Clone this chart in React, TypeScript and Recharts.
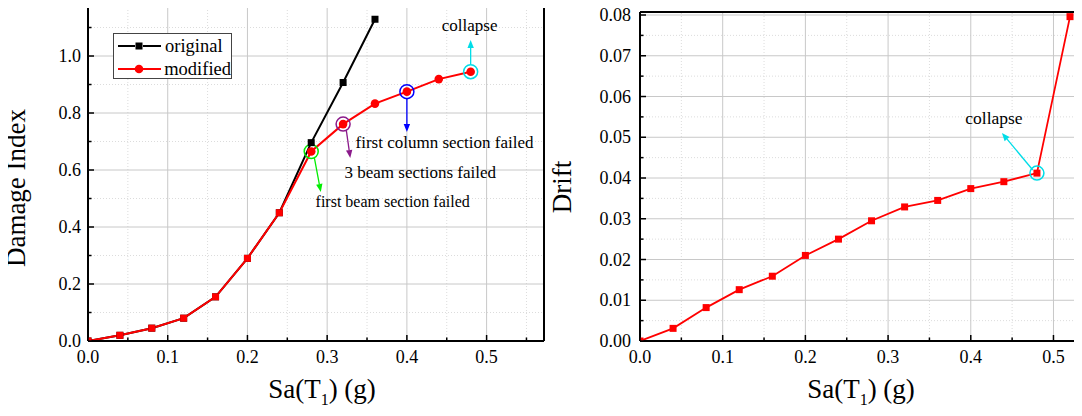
import React from 'react';
import { LineChart, Line, XAxis, YAxis, ReferenceLine, ReferenceDot, Legend } from 'recharts';

const FONT = '"Liberation Serif", "Times New Roman", serif';

// damage index vs Sa(T1)
const saOriginal = [0, 0.04, 0.08, 0.12, 0.16, 0.2, 0.24, 0.28, 0.32, 0.36];
const diOriginal = [0, 0.02, 0.045, 0.08, 0.155, 0.29, 0.45, 0.696, 0.907, 1.129];
const saModified = [0, 0.04, 0.08, 0.12, 0.16, 0.2, 0.24, 0.28, 0.32, 0.36, 0.4, 0.44, 0.48];
const diModified = [0, 0.02, 0.045, 0.08, 0.155, 0.29, 0.45, 0.665, 0.761, 0.833, 0.875, 0.919, 0.945];

// drift vs Sa(T1)
const saDrift = [0, 0.04, 0.08, 0.12, 0.16, 0.2, 0.24, 0.28, 0.32, 0.36, 0.4, 0.44, 0.48, 0.52];
const driftValues = [0, 0.0031, 0.0082, 0.0126, 0.0159, 0.021, 0.025, 0.0295, 0.0329, 0.0345, 0.0374, 0.0391, 0.0412, 0.0796];

// ticks
const saMajor = [0, 0.1, 0.2, 0.3, 0.4, 0.5];
const saMinorLeft = [0.05, 0.15, 0.25, 0.35, 0.45, 0.55];
const saMinorRight = [0.05, 0.15, 0.25, 0.35, 0.45];
const diMajor = [0, 0.2, 0.4, 0.6, 0.8, 1.0];
const diMinor = [0.1, 0.3, 0.5, 0.7, 0.9, 1.1];
const driftMajor = [0, 0.01, 0.02, 0.03, 0.04, 0.05, 0.06, 0.07, 0.08];
const driftMinor = [0.005, 0.015, 0.025, 0.035, 0.045, 0.055, 0.065, 0.075];

const legendOrder = ['original', 'modified'];

const originalData = saOriginal.map((sa, i) => ({ sa, di: diOriginal[i] }));
const modifiedData = saModified.map((sa, i) => ({ sa, di: diModified[i] }));
const driftData = saDrift.map((sa, i) => ({ sa, drift: driftValues[i] }));

const RED = '#ff0000';
const CYAN = '#00dde8';
const squareUntil = 0.24; // red markers are squares up to here, circles after

const isIn = (arr: number[], v: number) => arr.some((t) => Math.abs(t - v) < 1e-9);
const sorted = (a: number[], b: number[]) => [...a, ...b].sort((p, q) => p - q);

const makeXTick = (major: number[], digits: number) => (props: any) => {
  const { x, y, payload } = props;
  const big = isIn(major, payload.value);
  return (
    <g>
      <line x1={x} x2={x} y1={y} y2={y - (big ? 6 : 3.5)} stroke="#000" strokeWidth={1.5} />
      {big && (
        <text x={x} y={y + 22} textAnchor="middle" fontFamily={FONT} fontSize={18} fill="#000">
          {payload.value.toFixed(digits)}
        </text>
      )}
    </g>
  );
};

const makeYTick = (major: number[], digits: number, gap: number) => (props: any) => {
  const { x, y, payload } = props;
  const big = isIn(major, payload.value);
  return (
    <g>
      <line x1={x} x2={x + (big ? 6 : 3.5)} y1={y} y2={y} stroke="#000" strokeWidth={1.5} />
      {big && (
        <text x={x - gap} y={y + 6} textAnchor="end" fontFamily={FONT} fontSize={18} fill="#000">
          {payload.value.toFixed(digits)}
        </text>
      )}
    </g>
  );
};

const XTitle = (props: any) => {
  const { viewBox, dx = 0 } = props;
  const cx = viewBox.x + viewBox.width / 2 + dx;
  const cy = viewBox.y + 57;
  return (
    <text x={cx} y={cy} textAnchor="middle" fontFamily={FONT} fontSize={27} fill="#000">
      Sa(T<tspan fontSize={16} dy={7}>1</tspan>
      <tspan dy={-7}>) (g)</tspan>
    </text>
  );
};

const YTitle = (props: any) => {
  const { text, bx, cy } = props;
  return (
    <text
      x={bx}
      y={cy}
      transform={`rotate(-90 ${bx} ${cy})`}
      textAnchor="middle"
      fontFamily={FONT}
      fontSize={27}
      fill="#000"
    >
      {text}
    </text>
  );
};

const arrowShape = (color: string) => (p: any) => {
  const { x1, y1, x2, y2 } = p;
  const a = Math.atan2(y2 - y1, x2 - x1);
  const L = 8;
  const W = 3.2;
  const bx = x2 - L * Math.cos(a);
  const by = y2 - L * Math.sin(a);
  const nx = -Math.sin(a) * W;
  const ny = Math.cos(a) * W;
  return (
    <g>
      <line x1={x1} y1={y1} x2={bx} y2={by} stroke={color} strokeWidth={1.3} />
      <polygon points={`${x2},${y2} ${bx + nx},${by + ny} ${bx - nx},${by - ny}`} fill={color} />
    </g>
  );
};

const noteShape = (text: string, anchor: string, size: number) => (p: any) => (
  <text x={p.cx} y={p.cy} textAnchor={anchor} fontFamily={FONT} fontSize={size} fill="#000">
    {text}
  </text>
);

const ModifiedDot = (props: any) => {
  const { cx, cy, payload } = props;
  if (payload.sa <= squareUntil + 1e-9) {
    return <rect x={cx - 3.5} y={cy - 3.5} width={7} height={7} fill={RED} />;
  }
  return <circle cx={cx} cy={cy} r={4.3} fill={RED} />;
};

const SquareDot = (color: string) => (props: any) => {
  const { cx, cy } = props;
  return <rect x={cx - 3.5} y={cy - 3.5} width={7} height={7} fill={color} />;
};

const LegendBox = ({ payload }: any) => {
  const items = [...(payload || [])].sort(
    (a: any, b: any) => legendOrder.indexOf(a.value) - legendOrder.indexOf(b.value)
  );
  return (
    <div
      style={{
        border: '1px solid #444',
        background: '#fff',
        width: 119,
        height: 46,
        boxSizing: 'border-box',
        paddingLeft: 3,
        overflow: 'visible',
      }}
    >
      {items.map((e: any) => (
        <div key={e.value} style={{ display: 'flex', alignItems: 'center', height: 23 }}>
          <svg width={46} height={22} style={{ display: 'block' }}>
            <line x1={1} x2={18} y1={11} y2={11} stroke={e.color} strokeWidth={2} />
            <line x1={26} x2={44} y1={11} y2={11} stroke={e.color} strokeWidth={2} />
            {e.value === 'original' ? (
              <rect x={18.5} y={7.5} width={7} height={7} fill={e.color} />
            ) : (
              <circle cx={22} cy={11} r={4.3} fill={e.color} />
            )}
          </svg>
          <span style={{ fontFamily: FONT, fontSize: 18.5, marginLeft: 2, lineHeight: '22px', color: '#000' }}>
            {e.value}
          </span>
        </div>
      ))}
    </div>
  );
};

const gridMajor = { stroke: '#c8c8c8', strokeWidth: 1 };
const gridMinor = { stroke: '#dcdcdc', strokeWidth: 1, strokeDasharray: '1 2' };

function DamageChart() {
  const xTicks = sorted(saMajor, saMinorLeft);
  const yTicks = sorted(diMajor, diMinor);
  return (
    <LineChart width={560} height={416} margin={{ top: 4, right: 16, bottom: 0, left: 0 }}>
      <XAxis
        type="number"
        dataKey="sa"
        domain={[0, 0.572]}
        allowDataOverflow
        ticks={xTicks}
        interval={0}
        tickSize={0}
        tickMargin={0}
        tickLine={false}
        tick={makeXTick(saMajor, 1)}
        axisLine={{ stroke: '#000', strokeWidth: 2 }}
        height={75}
        label={<XTitle dx={6} />}
      />
      <YAxis
        type="number"
        domain={[0, 1.1825]}
        allowDataOverflow
        ticks={yTicks}
        interval={0}
        tickSize={0}
        tickMargin={0}
        tickLine={false}
        tick={makeYTick(diMajor, 1, 7)}
        axisLine={{ stroke: '#000', strokeWidth: 2 }}
        width={88}
        label={<YTitle text="Damage Index" bx={25} cy={188} />}
      />
      {saMinorLeft.map((v) => (
        <ReferenceLine key={`xm${v}`} x={v} {...gridMinor} />
      ))}
      {diMinor.map((v) => (
        <ReferenceLine key={`ym${v}`} y={v} {...gridMinor} />
      ))}
      {saMajor.slice(1).map((v) => (
        <ReferenceLine key={`xM${v}`} x={v} {...gridMajor} />
      ))}
      {diMajor.slice(1).map((v) => (
        <ReferenceLine key={`yM${v}`} y={v} {...gridMajor} />
      ))}
      <ReferenceLine y={1.1825} stroke="#000" strokeWidth={2} />
      <ReferenceLine x={0.572} stroke="#000" strokeWidth={2} />
      <Line
        data={originalData}
        dataKey="di"
        name="original"
        stroke="#000"
        strokeWidth={2}
        dot={SquareDot('#000')}
        activeDot={false}
        isAnimationActive={false}
      />
      <Line
        data={modifiedData}
        dataKey="di"
        name="modified"
        stroke={RED}
        strokeWidth={2}
        dot={ModifiedDot}
        activeDot={false}
        isAnimationActive={false}
      />
      {/* failure-stage markers */}
      <ReferenceDot x={0.28} y={0.665} r={7} fill="none" stroke="#00ee00" strokeWidth={1.5} />
      <ReferenceDot x={0.32} y={0.761} r={7} fill="none" stroke="#8b1a8b" strokeWidth={1.5} />
      <ReferenceDot x={0.4} y={0.875} r={7} fill="none" stroke="#0000ff" strokeWidth={1.5} />
      <ReferenceDot x={0.48} y={0.945} r={7} fill="none" stroke={CYAN} strokeWidth={1.5} />
      <ReferenceLine segment={[{ x: 0.284, y: 0.642 }, { x: 0.292, y: 0.523 }]} shape={arrowShape('#00ee00')} />
      <ReferenceLine segment={[{ x: 0.324, y: 0.74 }, { x: 0.329, y: 0.642 }]} shape={arrowShape('#8b1a8b')} />
      <ReferenceLine segment={[{ x: 0.4, y: 0.853 }, { x: 0.4, y: 0.733 }]} shape={arrowShape('#0000ff')} />
      <ReferenceLine segment={[{ x: 0.48, y: 0.972 }, { x: 0.48, y: 1.056 }]} shape={arrowShape(CYAN)} />
      <ReferenceDot x={0.3356} y={0.677} r={0} shape={noteShape('first column section failed', 'start', 17)} />
      <ReferenceDot x={0.3218} y={0.572} r={0} shape={noteShape('3 beam sections failed', 'start', 17)} />
      <ReferenceDot x={0.2855} y={0.47} r={0} shape={noteShape('first beam section failed', 'start', 16)} />
      <ReferenceDot x={0.4787} y={1.088} r={0} shape={noteShape('collapse', 'middle', 17)} />
      <Legend
        layout="vertical"
        align="center"
        verticalAlign="middle"
        content={LegendBox}
        wrapperStyle={{ left: 113, top: 33, width: 119, height: 46 }}
      />
    </LineChart>
  );
}

function DriftChart() {
  const xTicks = sorted(saMajor, saMinorRight);
  const yTicks = sorted(driftMajor, driftMinor);
  return (
    <LineChart width={537} height={416} margin={{ top: 12, right: 0, bottom: 0, left: 0 }}>
      <XAxis
        type="number"
        dataKey="sa"
        domain={[0, 0.5345]}
        allowDataOverflow
        ticks={xTicks}
        interval={0}
        tickSize={0}
        tickMargin={0}
        tickLine={false}
        tick={makeXTick(saMajor, 1)}
        axisLine={{ stroke: '#000', strokeWidth: 2 }}
        height={75}
        label={<XTitle dx={0} />}
      />
      <YAxis
        type="number"
        domain={[0, 0.08074]}
        allowDataOverflow
        ticks={yTicks}
        interval={0}
        tickSize={0}
        tickMargin={0}
        tickLine={false}
        tick={makeYTick(driftMajor, 2, 9)}
        axisLine={{ stroke: '#000', strokeWidth: 2 }}
        width={95}
        label={<YTitle text="Drift" bx={26} cy={187} />}
      />
      {saMinorRight.map((v) => (
        <ReferenceLine key={`xm${v}`} x={v} {...gridMinor} />
      ))}
      {driftMinor.map((v) => (
        <ReferenceLine key={`ym${v}`} y={v} {...gridMinor} />
      ))}
      {saMajor.slice(1).map((v) => (
        <ReferenceLine key={`xM${v}`} x={v} {...gridMajor} />
      ))}
      {driftMajor.slice(1).map((v) => (
        <ReferenceLine key={`yM${v}`} y={v} {...gridMajor} />
      ))}
      <ReferenceLine y={0.08074} stroke="#000" strokeWidth={2} />
      <Line
        data={driftData}
        dataKey="drift"
        name="drift"
        stroke={RED}
        strokeWidth={1.8}
        dot={SquareDot(RED)}
        activeDot={false}
        isAnimationActive={false}
      />
      <ReferenceDot x={0.48} y={0.0412} r={7} fill="none" stroke={CYAN} strokeWidth={1.5} />
      <ReferenceLine segment={[{ x: 0.475, y: 0.04196 }, { x: 0.4377, y: 0.05104 }]} shape={arrowShape(CYAN)} />
      <ReferenceDot x={0.428} y={0.0533} r={0} shape={noteShape('collapse', 'middle', 17.5)} />
    </LineChart>
  );
}

export default function App() {
  return (
    <div style={{ position: 'relative', width: 1082, height: 416, margin: '-8px 0 0 -8px', background: '#fff' }}>
      <div style={{ position: 'absolute', left: 0, top: 0 }}>
        <DamageChart />
      </div>
      <div style={{ position: 'absolute', left: 545, top: 0 }}>
        <DriftChart />
      </div>
    </div>
  );
}
